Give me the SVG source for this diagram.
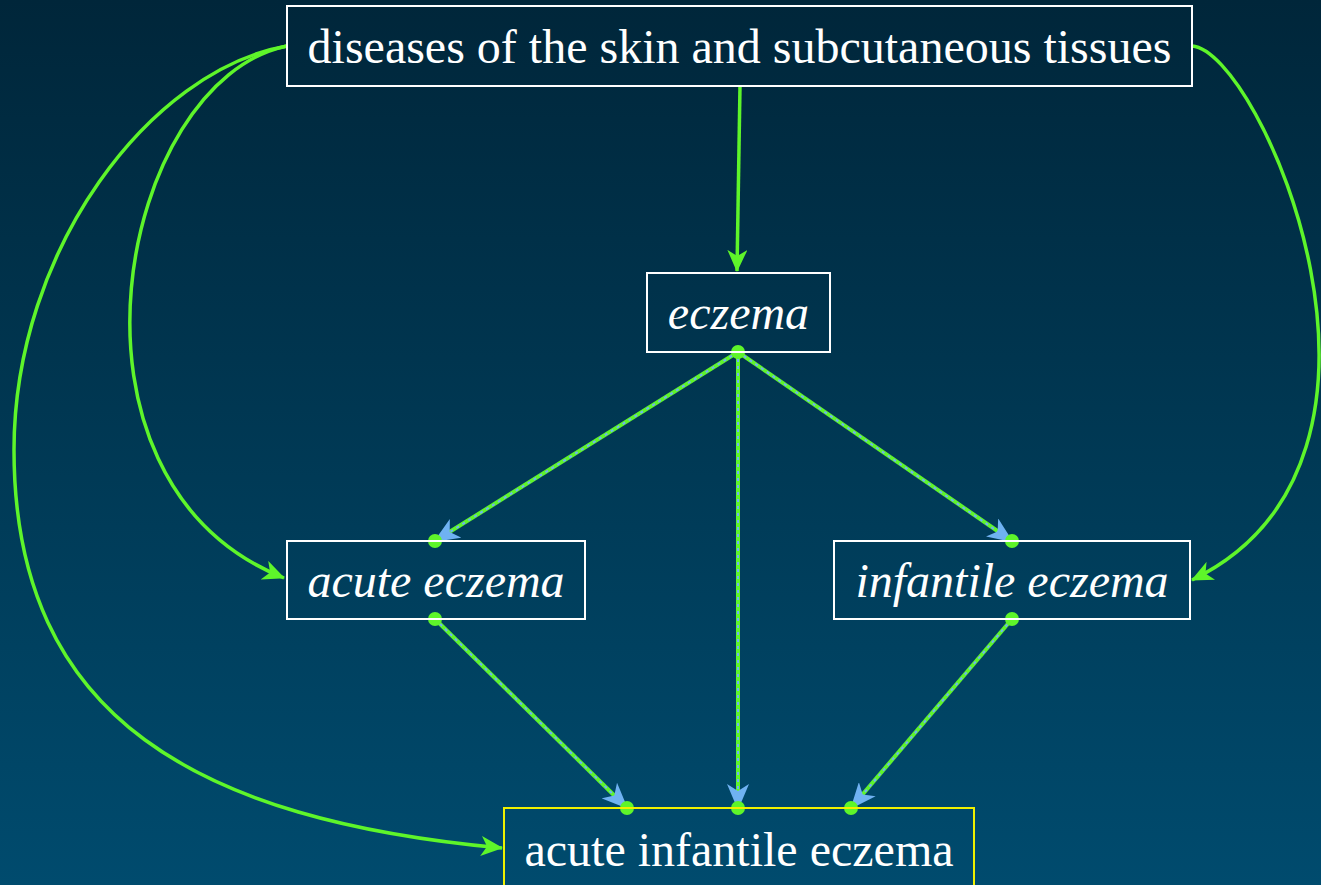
<svg xmlns="http://www.w3.org/2000/svg" width="1321" height="885" viewBox="0 0 1321 885">
<defs>
<linearGradient id="bg" x1="0" y1="0" x2="0" y2="1">
<stop offset="0" stop-color="#00263a"/>
<stop offset="1" stop-color="#004b6e"/>
</linearGradient>
<marker id="ga" viewBox="0 0 22 20" refX="21" refY="10" markerWidth="22" markerHeight="20" markerUnits="userSpaceOnUse" orient="auto">
<path d="M0,0 L22,10 L0,20 L6,10 Z" fill="#5ef52a"/>
</marker>
<marker id="ba" viewBox="0 0 26 22" refX="22" refY="11" markerWidth="26" markerHeight="22" markerUnits="userSpaceOnUse" orient="auto">
<path d="M0,0 L26,11 L0,22 L7,11 Z" fill="#6fb2f2"/>
</marker>
<style>
.box{fill:none;stroke:#ffffff;stroke-width:2}
.ybox{fill:none;stroke:#f0f000;stroke-width:2}
.t{font-family:"Liberation Serif","Times New Roman",serif;font-size:48px;fill:#ffffff;text-anchor:middle}
.i{font-style:italic}
.g{fill:none;stroke:#5ef52a;stroke-width:3.5}
.gl{fill:none;stroke:#5ef52a;stroke-width:4}
.bd{fill:none;stroke:#6fb2f2;stroke-width:2;stroke-dasharray:3 4}
.dot{fill:#5ef52a}
</style>
</defs>
<rect width="1321" height="885" fill="url(#bg)"/>
<g id="connectors">
<path class="g" d="M740,86 L737,271" marker-end="url(#ga)"/>
<path class="g" d="M287,46 C120,80 40,480 284,578" marker-end="url(#ga)"/>
<path class="g" d="M287,46 C150,70 14,250 14,450 C14,720 200,820 502,848" marker-end="url(#ga)"/>
<path class="g" d="M1192,46 C1260,50 1440,460 1192,580" marker-end="url(#ga)"/>
<g id="e-acute">
<path class="gl" d="M738,352 L435,541"/>
<path class="bd" d="M738,352 L437,540" marker-end="url(#ba)"/>
</g>
<g id="e-inf">
<path class="gl" d="M738,352 L1012,541"/>
<path class="bd" d="M738,352 L1010,540" marker-end="url(#ba)"/>
</g>
<g id="e-bottom">
<path class="gl" d="M738,352 L738,808"/>
<path class="bd" d="M738,352 L738,806" marker-end="url(#ba)"/>
</g>
<g id="acute-bottom">
<path class="gl" d="M435,619 L627,808"/>
<path class="bd" d="M435,619 L625,806" marker-end="url(#ba)"/>
</g>
<g id="inf-bottom">
<path class="gl" d="M1012,619 L851,808"/>
<path class="bd" d="M1012,619 L853,806" marker-end="url(#ba)"/>
</g>
<circle class="dot" cx="738" cy="352" r="7"/>
<circle class="dot" cx="435" cy="541" r="7"/>
<circle class="dot" cx="435" cy="619" r="7"/>
<circle class="dot" cx="1012" cy="541" r="7"/>
<circle class="dot" cx="1012" cy="619" r="7"/>
<circle class="dot" cx="627" cy="808" r="7"/>
<circle class="dot" cx="738" cy="808" r="7"/>
<circle class="dot" cx="851" cy="808" r="7"/>
</g>
<g id="n-skin">
<rect class="box" x="287" y="6" width="905" height="80"/>
<text class="t" x="739.5" y="63">diseases of the skin and subcutaneous tissues</text>
</g>
<g id="n-eczema">
<rect class="box" x="647" y="273" width="183" height="79"/>
<text class="t i" x="738.5" y="329">eczema</text>
</g>
<g id="n-acute">
<rect class="box" x="287" y="541" width="298" height="78"/>
<text class="t i" x="436" y="597">acute eczema</text>
</g>
<g id="n-infantile">
<rect class="box" x="834" y="541" width="356" height="78"/>
<text class="t i" x="1012" y="597">infantile eczema</text>
</g>
<g id="n-acute-infantile">
<rect class="ybox" x="504" y="808" width="470" height="90"/>
<text class="t" x="739" y="866">acute infantile eczema</text>
</g>
</svg>
